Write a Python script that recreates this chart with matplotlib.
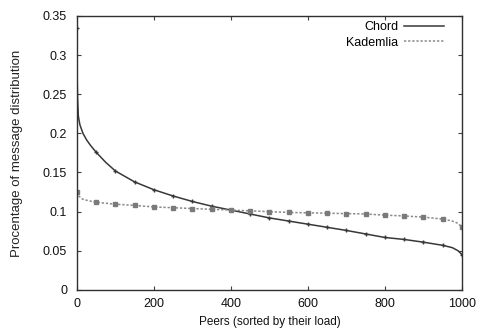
import matplotlib
matplotlib.use("Agg")
import matplotlib.pyplot as plt

chord_x = [0, 1, 2, 4, 8, 16, 25, 35, 50, 75, 100, 150, 200, 250, 300, 350, 400,
           450, 500, 550, 600, 650, 700, 750, 800, 850, 900, 950, 975, 990, 1000]
chord_y = [0.335, 0.27, 0.245, 0.222, 0.211, 0.200, 0.192, 0.185, 0.176, 0.163,
           0.152, 0.138, 0.128, 0.120, 0.113, 0.107, 0.102, 0.097, 0.092, 0.088, 0.084,
           0.080, 0.076, 0.0715, 0.067, 0.0645, 0.061, 0.057, 0.054, 0.050, 0.045]

kad_x = [0, 5, 15, 30, 50, 100, 150, 200, 250, 300, 350, 400, 450, 500, 550, 600,
         650, 700, 750, 800, 850, 900, 950, 975, 990, 1000]
kad_y = [0.125, 0.12, 0.116, 0.114, 0.112, 0.1095, 0.108, 0.106, 0.105, 0.104, 0.103,
         0.102, 0.101, 0.100, 0.099, 0.0985, 0.098, 0.0975, 0.097, 0.0955, 0.0945, 0.093,
         0.0905, 0.088, 0.085, 0.080]

x_ticks = [0, 200, 400, 600, 800, 1000]
y_ticks = [0, 0.05, 0.1, 0.15, 0.2, 0.25, 0.3, 0.35]
y_labels = ["0", "0.05", "0.1", "0.15", "0.2", "0.25", "0.3", "0.35"]

plt.rcParams['font.family'] = ['Liberation Sans', 'DejaVu Sans']

fig = plt.figure(figsize=(4.8, 3.31), dpi=100)
ax = fig.add_axes([0.160, 0.124, 0.8025, 0.828])

chord_marks = [i for i, v in enumerate(chord_x) if v % 50 == 0]
kad_marks = [i for i, v in enumerate(kad_x) if v % 50 == 0]

ax.plot(chord_x, chord_y, color='#383838', lw=1.1, marker='+', markersize=3.5,
        markevery=chord_marks, label='Chord')
ax.plot(kad_x, kad_y, color='#8a8a8a', lw=1.1, ls=(0, (1.5, 1.2)), marker='s',
        markersize=3, markevery=kad_marks, markerfacecolor='#7a7a7a',
        markeredgecolor='#7a7a7a', label='Kademlia')

ax.set_xlim(0, 1000)
ax.set_ylim(0, 0.35)
ax.set_xticks(x_ticks)
ax.set_yticks(y_ticks)
ax.set_yticklabels(y_labels)
ax.tick_params(direction='in', top=True, right=True, labelsize=9, length=3,
               color='#404040', labelcolor='#111111')
ax.tick_params(axis='x', pad=6)
ax.tick_params(axis='y', pad=7)
for s in ax.spines.values():
    s.set_color('#303030')
    s.set_linewidth(1.0)

ax.set_xlabel('Peers (sorted by their load)', fontsize=8.5, labelpad=4, color='#111111')
ax.set_ylabel('Procentage of message distribution', fontsize=9.5, labelpad=14,
              color='#222222')

leg = ax.legend(loc='upper right', frameon=False, markerfirst=False, fontsize=9,
                handlelength=3.2, handletextpad=0.4, labelspacing=0.25,
                bbox_to_anchor=(0.965, 0.998), borderaxespad=0.0)
for h in leg.legend_handles:
    h.set_marker('')

fig.savefig('out.png', dpi=100)
